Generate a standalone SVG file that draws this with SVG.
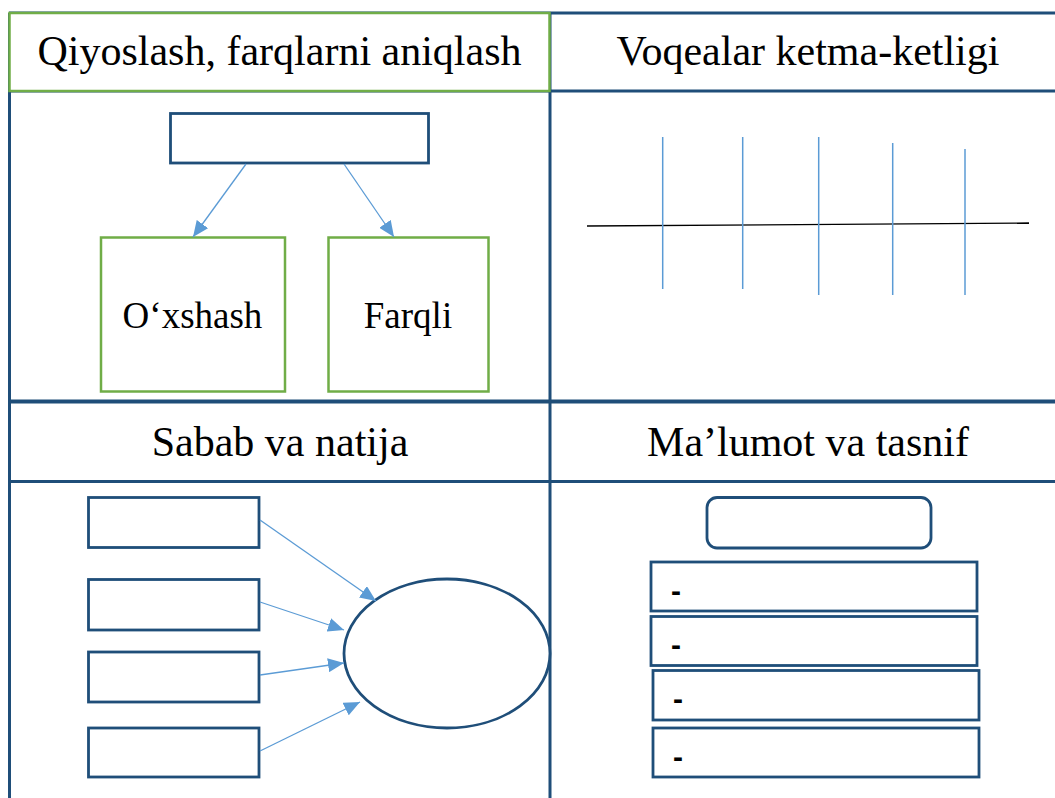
<svg xmlns="http://www.w3.org/2000/svg" width="1055" height="798" viewBox="0 0 1055 798">
<style>
  .grid { stroke: #1F4E79; stroke-width: 3; fill: none; }
  .hdr { font-family: "Liberation Serif", "DejaVu Serif", "Noto Serif", serif; font-size: 42px; fill: #000; text-anchor: middle; }
  .lbl { font-family: "Liberation Serif", "DejaVu Serif", "Noto Serif", serif; font-size: 37px; fill: #000; text-anchor: middle; }
  .green { fill: #fff; stroke: #70AD47; stroke-width: 2.5; }
  .box { fill: #fff; stroke: #1F4E79; stroke-width: 2.8; }
  .conn { stroke: #5B9BD5; stroke-width: 1.3; fill: none; marker-end: url(#arr); }
  .tick { stroke: #5B9BD5; stroke-width: 1.5; }
  .dash { font-family: "Liberation Sans", Arial, sans-serif; font-size: 30px; font-weight: bold; fill: #000; }
</style>
<defs>
  <marker id="arr" markerUnits="userSpaceOnUse" markerWidth="17" markerHeight="14" refX="16" refY="7" orient="auto">
    <path d="M0,0 L16,7 L0,14 z" fill="#5B9BD5"/>
  </marker>
</defs>
<rect width="1055" height="798" fill="#fff"/>

<g id="table">
  <line class="grid" x1="9" y1="13" x2="1060" y2="13"/>
  <line class="grid" x1="9" y1="91" x2="1060" y2="91"/>
  <line class="grid" x1="9" y1="401.5" x2="1060" y2="401.5" style="stroke-width:4"/>
  <line class="grid" x1="9" y1="481.5" x2="1060" y2="481.5"/>
  <line class="grid" x1="9.5" y1="13" x2="9.5" y2="800"/>
  <line class="grid" x1="550" y1="13" x2="550" y2="800"/>
</g>

<g id="header-qiyoslash">
  <rect class="green" x="9.5" y="13" width="540" height="78"/>
  <text class="hdr" x="279.5" y="65" font-family="Liberation Serif, DejaVu Serif, serif">Qiyoslash, farqlarni aniqlash</text>
</g>
<g id="header-voqealar">
  <text class="hdr" x="808" y="65" font-family="Liberation Serif, DejaVu Serif, serif">Voqealar ketma-ketligi</text>
</g>
<g id="header-sabab">
  <text class="hdr" x="280" y="456" font-family="Liberation Serif, DejaVu Serif, serif">Sabab va natija</text>
</g>
<g id="header-malumot">
  <text class="hdr" x="808" y="456" font-family="Liberation Serif, DejaVu Serif, serif">Ma’lumot va tasnif</text>
</g>

<g id="compare-top"><rect class="box" x="170.5" y="113.5" width="258" height="49.5"/></g>
<g id="compare-oxshash">
  <rect class="green" x="101" y="237.5" width="184" height="154"/>
  <text class="lbl" x="192.5" y="328" font-family="Liberation Serif, DejaVu Serif, serif">O‘xshash</text>
</g>
<g id="compare-farqli">
  <rect class="green" x="328.5" y="237.5" width="160" height="154"/>
  <text class="lbl" x="408" y="328" font-family="Liberation Serif, DejaVu Serif, serif">Farqli</text>
</g>

<g id="timeline">
  <line x1="587" y1="226" x2="1029" y2="223" stroke="#000" stroke-width="1.3"/>
  <line class="tick" x1="662.7" y1="137" x2="662.7" y2="289"/>
  <line class="tick" x1="742.7" y1="137" x2="742.7" y2="289"/>
  <line class="tick" x1="818.7" y1="137" x2="818.7" y2="295"/>
  <line class="tick" x1="892.7" y1="143" x2="892.7" y2="295"/>
  <line class="tick" x1="965" y1="149" x2="965" y2="295"/>
</g>

<g id="cause-1"><rect class="box" x="88.5" y="497.5" width="170.5" height="50"/></g>
<g id="cause-2"><rect class="box" x="88.5" y="579.5" width="170.5" height="50.5"/></g>
<g id="cause-3"><rect class="box" x="88.5" y="652" width="170.5" height="50"/></g>
<g id="cause-4"><rect class="box" x="88.5" y="728" width="170.5" height="49"/></g>
<g id="result"><ellipse cx="447" cy="653.5" rx="103" ry="74.5" fill="#fff" stroke="#1F4E79" stroke-width="2.8"/></g>

<g id="info-title"><rect class="box" x="707" y="497.5" width="224" height="50.5" rx="10" ry="10"/></g>
<g id="info-1">
  <rect class="box" x="651" y="562" width="326" height="49"/>
  <text class="dash" x="671" y="601">-</text>
</g>
<g id="info-2">
  <rect class="box" x="651" y="616.5" width="326" height="49"/>
  <text class="dash" x="671" y="655">-</text>
</g>
<g id="info-3">
  <rect class="box" x="653" y="670.5" width="326" height="49.5"/>
  <text class="dash" x="673" y="709">-</text>
</g>
<g id="info-4">
  <rect class="box" x="653" y="728" width="326" height="49"/>
  <text class="dash" x="673" y="767">-</text>
</g>

<g id="connectors">
  <line class="conn" x1="246" y1="164" x2="193" y2="237"/>
  <line class="conn" x1="344" y1="164" x2="394" y2="237"/>
  <line class="conn" x1="260" y1="520" x2="376" y2="601"/>
  <line class="conn" x1="260" y1="602" x2="344" y2="630"/>
  <line class="conn" x1="260" y1="675" x2="344" y2="663"/>
  <line class="conn" x1="260" y1="751" x2="360" y2="702"/>
</g>
</svg>
